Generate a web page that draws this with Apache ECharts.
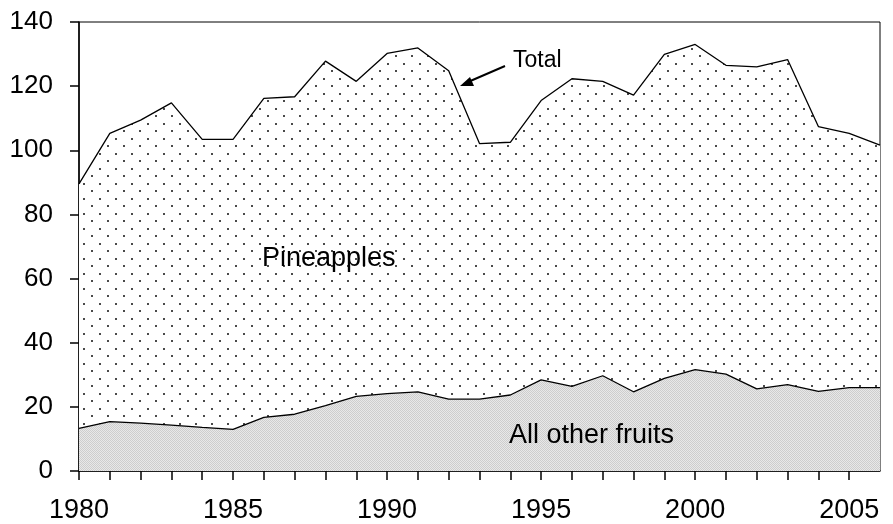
<!DOCTYPE html>
<html>
<head>
<meta charset="utf-8">
<script src="https://cdn.jsdelivr.net/npm/echarts@6/dist/echarts.min.js"></script>
<style>
  html, body { margin: 0; padding: 0; background: #fff; }
  #chart { width: 893px; height: 524px; }
</style>
</head>
<body>
<div id="chart"></div>
<script>
// values
const years = [1980, 1981, 1982, 1983, 1984, 1985, 1986, 1987, 1988, 1989, 1990, 1991, 1992,
  1993, 1994, 1995, 1996, 1997, 1998, 1999, 2000, 2001, 2002, 2003, 2004, 2005, 2006]
const totals = [89.5, 105.3, 109.4, 114.8, 103.4, 103.4, 116.2, 116.7, 127.8, 121.5, 130.2, 131.9, 124.8,
  102.1, 102.5, 115.5, 122.3, 121.5, 117.2, 129.9, 133.0, 126.5, 126.0, 128.3, 107.4, 105.3, 101.6]
const otherFruits = [13.3, 15.4, 14.9, 14.3, 13.6, 13.0, 16.7, 17.7, 20.4, 23.3, 24.1, 24.7, 22.4,
  22.4, 23.7, 28.4, 26.4, 29.7, 24.7, 28.9, 31.6, 30.2, 25.6, 26.9, 24.8, 26.0, 26.0]
const yTicks = [0, 20, 40, 60, 80, 100, 120, 140]

// dotted fill for pineapples (area between other fruits and total)
function dotPattern() {
  const c = document.createElement('canvas')
  c.width = 16
  c.height = 15
  const ctx = c.getContext('2d')
  ctx.fillStyle = '#fff'
  ctx.fillRect(0, 0, 16, 15)
  ctx.fillStyle = '#4a4a4a'
  ctx.fillRect(3, 3, 2, 2)
  ctx.fillRect(11, 10, 2, 2)
  return c
}

// fine grey screen for all other fruits
function greyPattern() {
  const c = document.createElement('canvas')
  c.width = 2
  c.height = 2
  const ctx = c.getContext('2d')
  ctx.fillStyle = '#e8e8e8'
  ctx.fillRect(0, 0, 2, 2)
  ctx.fillStyle = '#cdcdcd'
  ctx.fillRect(0, 0, 1, 1)
  ctx.fillRect(1, 1, 1, 1)
  return c
}

const font = 'Liberation Sans, Arial, sans-serif'
const chart = echarts.init(document.getElementById('chart'))

chart.setOption({
  animation: false,
  grid: {
    left: 79,
    right: 13,
    top: 22,
    bottom: 50,
    show: true,
    borderColor: '#000',
    borderWidth: 1
  },
  xAxis: {
    type: 'value',
    min: 1980,
    max: 2006,
    interval: 1,
    axisLine: { lineStyle: { color: '#000', width: 1.5 } },
    axisTick: { length: 9, lineStyle: { color: '#000', width: 1.5 } },
    axisLabel: {
      color: '#000',
      fontSize: 27,
      fontFamily: font,
      margin: 26,
      showMaxLabel: false,
      formatter: v => (v % 5 === 0 ? String(v) : '')
    },
    splitLine: { show: false }
  },
  yAxis: {
    type: 'value',
    min: yTicks[0],
    max: yTicks[yTicks.length - 1],
    interval: 20,
    axisLine: { show: true, lineStyle: { color: '#000', width: 1.5 } },
    axisTick: { show: true, length: 9, lineStyle: { color: '#000', width: 1.5 } },
    axisLabel: { color: '#000', fontSize: 26, fontFamily: font, margin: 26 },
    splitLine: { show: false }
  },
  series: [
    {
      name: 'Total',
      type: 'line',
      symbol: 'none',
      data: years.map((y, i) => [y, totals[i]]),
      lineStyle: { color: '#000', width: 1.3 },
      areaStyle: { color: { image: dotPattern(), repeat: 'repeat' }, opacity: 1, origin: 'start' },
      z: 2
    },
    {
      name: 'All other fruits',
      type: 'line',
      symbol: 'none',
      data: years.map((y, i) => [y, otherFruits[i]]),
      lineStyle: { color: '#000', width: 1.3 },
      areaStyle: { color: { image: greyPattern(), repeat: 'repeat' }, opacity: 1, origin: 'start' },
      z: 3
    }
  ],
  graphic: [
    {
      type: 'text', left: 262, top: 245, z: 10,
      style: { text: 'Pineapples', font: '27px ' + font, fill: '#000' }
    },
    {
      type: 'text', left: 509, top: 422, z: 10,
      style: { text: 'All other fruits', font: '27px ' + font, fill: '#000' }
    },
    {
      type: 'text', left: 513, top: 49, z: 10,
      style: { text: 'Total', font: '23px ' + font, fill: '#000' }
    },
    {
      type: 'line', z: 10,
      shape: { x1: 505, y1: 66, x2: 468, y2: 82 },
      style: { stroke: '#000', lineWidth: 2 }
    },
    {
      type: 'polygon', z: 10,
      shape: { points: [[460, 86], [470, 77], [474, 86]] },
      style: { fill: '#000' }
    }
  ]
})
</script>
</body>
</html>
